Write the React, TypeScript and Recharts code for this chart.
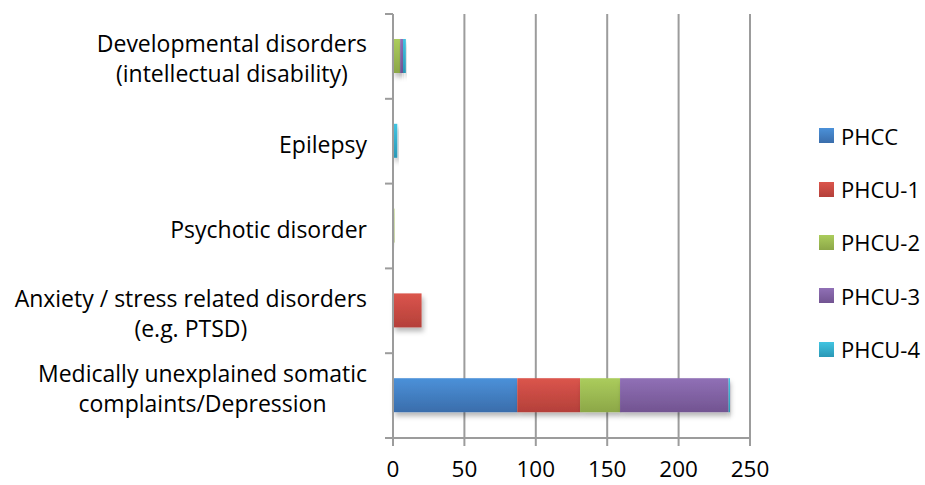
import React from "react";
import { BarChart, Bar, XAxis, YAxis, CartesianGrid, Legend } from "recharts";

// Disorder categories, top to bottom ("\n" marks a line break in the label)
const categories = [
  "Developmental disorders\n(intellectual disability)",
  "Epilepsy",
  "Psychotic disorder",
  "Anxiety / stress related disorders\n(e.g. PTSD)",
  "Medically unexplained somatic\ncomplaints/Depression",
];

// Cases per facility
const phcc = [0, 0, 0, 0, 87];
const phcu1 = [0, 0, 0, 20, 44];
const phcu2 = [5, 0, 1, 0, 28];
const phcu3 = [2, 0, 0, 0, 76];
const phcu4 = [2, 3, 0, 0, 1];

const xTicks = [0, 50, 100, 150, 200, 250];

const seriesNames = ["PHCC", "PHCU-1", "PHCU-2", "PHCU-3", "PHCU-4"];
const seriesValues = [phcc, phcu1, phcu2, phcu3, phcu4];

// Gradient stops (top, bottom) for each series
const seriesColors: [string, string][] = [
  ["#4b91d9", "#3a6dab"],
  ["#db554c", "#b4403a"],
  ["#abcc5c", "#8ca748"],
  ["#9070b6", "#725491"],
  ["#41c4e1", "#2a98b6"],
];

const data = categories.map((name, i) => {
  const row: Record<string, string | number> = { name };
  seriesNames.forEach((s, k) => {
    row[s] = seriesValues[k][i];
  });
  return row;
});

const WIDTH = 925;
const HEIGHT = 485;
const PLOT_TOP = 14;
const X_AXIS_H = 47;
const Y_AXIS_W = 393;
const RIGHT = 175;
const BAND = (HEIGHT - X_AXIS_H - PLOT_TOP) / categories.length;
const FONT = "'Open Sans', sans-serif";
const AXIS_GREY = "#9c9c9c";
const LABEL_RIGHT = 367;
// Vertical nudge for the bottom label, which sits higher in its band
const labelNudge = [0, 0, 0, 0, -10];

let measureCtx: CanvasRenderingContext2D | null = null;
function textWidth(s: string, size: number) {
  if (!measureCtx) {
    measureCtx = document.createElement("canvas").getContext("2d");
  }
  if (!measureCtx) return s.length * size * 0.5;
  measureCtx.font = `${size}px 'Open Sans'`;
  return measureCtx.measureText(s).width;
}

const CategoryTick = (props: any) => {
  const { y, payload, index } = props;
  const lines = String(payload.value).split("\n");
  const size = 23;
  const maxW = Math.max(...lines.map((l) => textWidth(l, size)));
  const cx = LABEL_RIGHT - maxW / 2;
  const n = lines.length;
  const nudge = labelNudge[index] || 0;
  return (
    <g>
      {index === 0 && (
        <line x1={Y_AXIS_W - 8} x2={Y_AXIS_W} y1={y - BAND / 2} y2={y - BAND / 2} stroke={AXIS_GREY} strokeWidth={2} />
      )}
      <line x1={Y_AXIS_W - 8} x2={Y_AXIS_W} y1={y + BAND / 2} y2={y + BAND / 2} stroke={AXIS_GREY} strokeWidth={2} />
      {lines.map((l, i) => (
        <text
          key={i}
          x={cx}
          y={y + 12 - 16 * (n - 1) + 30 * i + nudge}
          textAnchor="middle"
          fontFamily={FONT}
          fontSize={size}
          fill="#000"
        >
          {l}
        </text>
      ))}
    </g>
  );
};

const BarShape = (props: any) => {
  const { x, y, width, height, fill } = props;
  if (!width || width <= 0) return null;
  return <rect x={x} y={y} width={width} height={height} fill={fill} filter="url(#barShadow)" />;
};

const LegendContent = () => (
  <div style={{ fontFamily: FONT, fontSize: 22, color: "#000" }}>
    {seriesNames.map((s, k) => (
      <div key={s} style={{ display: "flex", alignItems: "center", height: 53.4 }}>
        <div
          style={{
            width: 15,
            height: 15,
            marginRight: 7,
            background: `linear-gradient(${seriesColors[k][0]}, ${seriesColors[k][1]})`,
          }}
        />
        <span style={{ lineHeight: "22px" }}>{s}</span>
      </div>
    ))}
  </div>
);

export default function App() {
  return (
    <div style={{ position: "absolute", left: 0, top: 0, background: "#fff" }}>
      <BarChart
        width={WIDTH}
        height={HEIGHT}
        data={data}
        layout="vertical"
        margin={{ top: PLOT_TOP, right: RIGHT, bottom: 0, left: 0 }}
        barCategoryGap={25}
      >
        <defs>
          {seriesColors.map(([a, b], k) => (
            <linearGradient key={k} id={`grad${k}`} x1="0" y1="0" x2="0" y2="1">
              <stop offset="0%" stopColor={a} />
              <stop offset="100%" stopColor={b} />
            </linearGradient>
          ))}
          <filter id="barShadow" x="-20%" y="-30%" width="140%" height="170%">
            <feDropShadow dx="2" dy="4" stdDeviation="2.5" floodColor="#000" floodOpacity="0.28" />
          </filter>
        </defs>
        <CartesianGrid horizontal={false} stroke={AXIS_GREY} strokeWidth={2} />
        <XAxis
          type="number"
          domain={[0, 250]}
          ticks={xTicks}
          height={X_AXIS_H}
          axisLine={{ stroke: AXIS_GREY, strokeWidth: 2 }}
          tickLine={{ stroke: AXIS_GREY, strokeWidth: 2 }}
          tickSize={8}
          tickMargin={15}
          tick={{ fill: "#000", fontSize: 22.5, fontFamily: FONT }}
        />
        <YAxis
          type="category"
          dataKey="name"
          width={Y_AXIS_W}
          interval={0}
          axisLine={{ stroke: AXIS_GREY, strokeWidth: 2 }}
          tickLine={false}
          tick={<CategoryTick />}
        />
        {seriesNames.map((s, k) => (
          <Bar
            key={s}
            dataKey={s}
            stackId="all"
            fill={`url(#grad${k})`}
            barSize={34}
            shape={<BarShape />}
            isAnimationActive={false}
          />
        ))}
        <Legend
          layout="vertical"
          align="center"
          verticalAlign="middle"
          content={<LegendContent />}
          wrapperStyle={{ left: 819, top: 109, width: 106 }}
        />
      </BarChart>
    </div>
  );
}
